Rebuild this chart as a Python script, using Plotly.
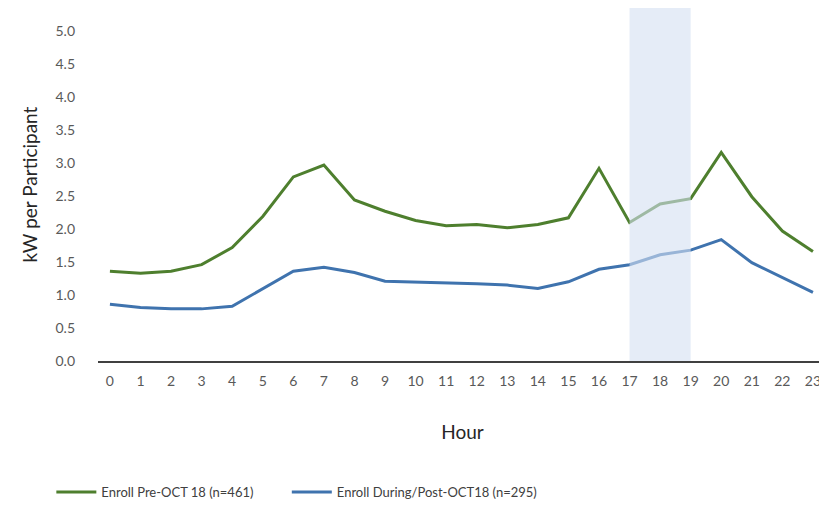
import plotly.graph_objects as go

hours = list(range(24))
pre_oct = [1.36, 1.33, 1.36, 1.46, 1.72, 2.19, 2.79, 2.97, 2.44, 2.27, 2.13, 2.05,
           2.07, 2.02, 2.07, 2.17, 2.92, 2.10, 2.38, 2.46, 3.16, 2.49, 1.97, 1.66]
post_oct = [0.86, 0.81, 0.79, 0.79, 0.83, 1.09, 1.36, 1.42, 1.34, 1.21, 1.20, 1.18,
            1.17, 1.15, 1.10, 1.20, 1.39, 1.46, 1.61, 1.68, 1.84, 1.49, 1.27, 1.04]
series_names = ["Enroll Pre-OCT 18 (n=461)", "Enroll During/Post-OCT18 (n=295)"]
event_window = [17, 19]
y_ticks = [0, 0.5, 1, 1.5, 2, 2.5, 3, 3.5, 4, 4.5, 5]

FONT = "Lato, sans-serif"

fig = go.Figure()
fig.add_trace(go.Scatter(x=hours, y=pre_oct, mode="lines", name=series_names[0],
                         line=dict(color="#4E7F2E", width=3), legend="legend"))
fig.add_trace(go.Scatter(x=hours, y=post_oct, mode="lines", name=series_names[1],
                         line=dict(color="#3F73AE", width=3), legend="legend2"))

fig.add_shape(type="rect", xref="x", yref="y", x0=event_window[0], x1=event_window[1],
              y0=0, y1=5.35, fillcolor="#D3E0F1", opacity=0.6, line_width=0, layer="above")

legend_common = dict(orientation="h", yanchor="middle", y=-0.371, xanchor="left",
                     font=dict(size=13, color="#404040"), itemwidth=40,
                     bgcolor="rgba(0,0,0,0)")

fig.update_layout(
    width=819, height=508,
    margin=dict(l=90, r=0, t=0, b=155),
    paper_bgcolor="white", plot_bgcolor="white",
    font=dict(family=FONT, color="#595959", size=14),
    showlegend=True,
    legend=dict(x=-0.064, **legend_common),
    legend2=dict(x=0.259, **legend_common),
    xaxis=dict(range=[-0.39, 23.46], tickmode="array", tickvals=hours,
               ticktext=[str(h) for h in hours], showgrid=False, zeroline=False,
               showline=True, linecolor="#404040", linewidth=2, ticks="",
               ticklabelstandoff=6,
               title=dict(text="Hour", font=dict(size=19, color="#262626"), standoff=38)),
    yaxis=dict(range=[0, 5.35], tickmode="array", tickvals=y_ticks,
               ticktext=[f"{v:.1f}" for v in y_ticks], showgrid=False, zeroline=False,
               showline=False, ticks="", ticklabelstandoff=22,
               title=dict(text="kW per Participant", font=dict(size=19, color="#262626"), standoff=12)),
)

fig.write_html("out.html")
